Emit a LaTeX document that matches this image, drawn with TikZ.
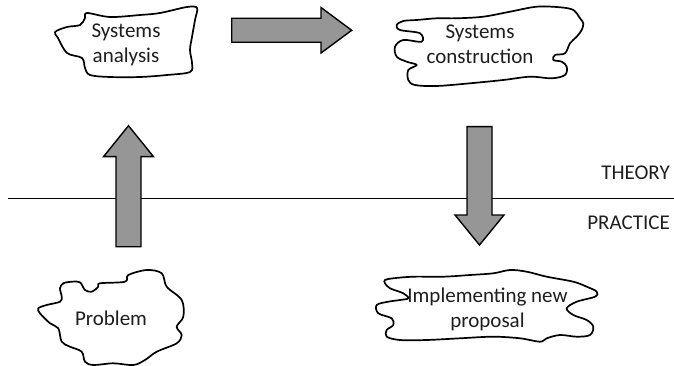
\documentclass[tikz,border=0pt]{standalone}
\usepackage{fontspec}
\setmainfont{Carlito}
\definecolor{arrowgray}{RGB}{150,150,150}
\definecolor{textdark}{RGB}{30,30,30}
\begin{document}
\begin{tikzpicture}[x=1pt,y=-1pt,
  cloudline/.style={draw=black, line width=1.7pt, fill=white, line join=round},
  blockarrow/.style={draw=black, line width=1.4pt, fill=arrowgray, line join=miter},
  boundary/.style={draw=black, line width=1.1pt},
  lbl/.style={font=\fontsize{21}{25}\selectfont, text=textdark, align=center, inner sep=0pt},
]
\useasboundingbox (0,0) rectangle (674,366);

% theory / practice divide
\coordinate (lineL) at (8,198.5);
\coordinate (lineR) at (674,198.5);
\draw[boundary] (lineL) -- (lineR);
\node[lbl, anchor=base east] (theory) at (670,180) {THEORY};
\node[lbl, anchor=base east] (practice) at (670,229) {PRACTICE};

% hand-drawn clouds
\draw[cloudline] plot[smooth cycle, tension=0.55] coordinates {
  (87,13) (110,17) (140,15) (160,13) (187,7) (197,8) (195,20) (192,37)
  (190,50) (192,63) (190,72) (167,75) (140,77) (110,77) (90,75) (85,68)
  (82,58) (67,53) (58,38) (55,32) (67,27) (80,25) (85,18)};
\node[lbl] (analysis) at (126,45) {Systems\\analysis};

\draw[cloudline] plot[smooth cycle, tension=0.55] coordinates {
  (396.7,25) (400,30) (420,33.3) (421.7,41.7) (403.3,40) (395,46.7)
  (396.7,56.7) (406.7,61.7) (416.7,65) (408.3,70) (408.3,80) (415,85)
  (436.7,86) (470,83.3) (503.3,80) (530,76.7) (551.7,78.3) (565,75)
  (566.7,66.7) (561.7,61.7) (553.3,60) (555,55) (565,53.3) (570,43.3)
  (576.7,36.7) (581.7,30) (583.3,23.3) (580,18.3) (573.3,10) (560,7.3)
  (536.7,6.7) (510,11.7) (483.3,16.7) (456.7,18.3) (436.7,18.3)
  (416.7,20) (403.3,21)};
\node[lbl] (construction) at (480,44) {Systems\\construction};

\draw[cloudline] plot[smooth cycle, tension=0.55] coordinates {
  (63.3,283.3) (71.7,281.7) (80,282.3) (85,290) (91.7,291.7) (98.3,286.7)
  (100,283.3) (125,281.7) (128.3,275) (146.7,270) (161.7,273.3)
  (166.7,286.7) (181.7,300) (183.3,316.7) (176.7,326.7) (181.7,335)
  (176.7,343.3) (156.7,351.7) (145,360) (133.3,365) (113.3,363.3)
  (93.3,365) (85,361.7) (81.7,351.7) (70,346.7) (61.7,341.7) (58.3,328.3)
  (50,323.3) (40,313.3) (38.3,308.3) (46.7,305) (60,301.7) (61.7,296.7)
  (60,288.3)};
\node[lbl] (problem) at (111,318) {Problem};

\draw[cloudline] plot[smooth cycle, tension=0.55] coordinates {
  (385,280) (393.3,278.3) (413.3,276.7) (443.3,276.7) (470,275)
  (493.3,273.3) (510,270) (526.7,271.7) (546.7,276.7) (573.3,281.7)
  (586.7,286.7) (596.7,291.7) (595,296.7) (576.7,301.7) (566.7,308.3)
  (573.3,315) (586.7,320) (593.3,326.7) (590,335) (576.7,336.7) (560,335)
  (546.7,338.3) (540,341.7) (520,338.3) (493.3,336.7) (460,338.3)
  (426.7,340) (400,340) (386.7,336.7) (386.7,330) (393.3,325)
  (391.7,318.3) (378.3,313.3) (376.7,305) (388.3,301.7) (400,300)
  (408.3,298.3) (403.3,293.3) (390,288.3) (385,283.3)};
\node[lbl] (implementing) at (487.5,309) {Implementing new\\proposal};

% block arrows
\coordinate (upfoot) at (128.5,246.7);
\draw[blockarrow] (upfoot) ++(-12.5,0) -- ++(0,-90) -- ++(-12.5,0)
  -- ++(25,-31) -- ++(25,31) -- ++(-12.5,0) -- ++(0,90) -- cycle;

\coordinate (righttail) at (231.7,30.3);
\draw[blockarrow] (righttail) ++(0,-12) -- ++(89.3,0) -- ++(0,-10.8)
  -- ++(30.7,22.8) -- ++(-30.7,22.7) -- ++(0,-10.7) -- ++(-89.3,0) -- cycle;

\coordinate (downtop) at (479.5,126.7);
\draw[blockarrow] (downtop) ++(-12.5,0) -- ++(0,88.3) -- ++(-12,0)
  -- ++(24.5,30) -- ++(24.5,-30) -- ++(-12,0) -- ++(0,-88.3) -- cycle;
\end{tikzpicture}
\end{document}
